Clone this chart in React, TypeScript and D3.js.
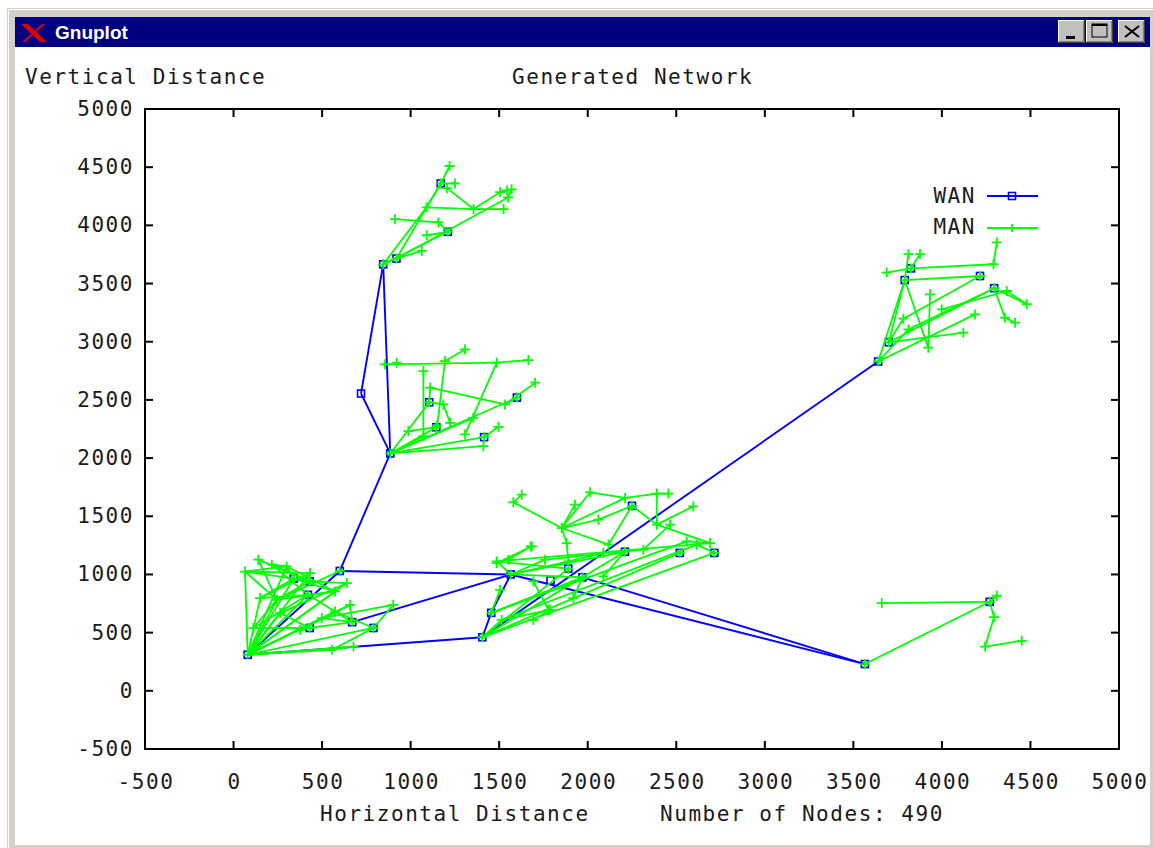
import React from 'react';
import * as d3 from 'd3';

const xTicks = [-500, 0, 500, 1000, 1500, 2000, 2500, 3000, 3500, 4000, 4500, 5000];
const yTicks = [-500, 0, 500, 1000, 1500, 2000, 2500, 3000, 3500, 4000, 4500, 5000];

const titleText = 'Generated Network';
const yLabel = 'Vertical Distance';
const xLabel = 'Horizontal Distance';
const nodeLabel = 'Number of Nodes: 490';
const seriesNames = ['WAN', 'MAN'];

// WAN nodes (blue squares)
const wanNodes: [number, number][] = [
  [80, 310], [600, 1030], [340, 965], [430, 940], [420, 825], [430, 540], [670, 590], [790, 540],
  [1405, 460], [1455, 670], [1565, 1000], [1790, 950], [1890, 1050], [1970, 975], [2210, 1195],
  [2250, 1590], [2520, 1185], [2715, 1185], [885, 2040], [720, 2555], [1105, 2480], [1145, 2265],
  [1600, 2520], [1415, 2180], [845, 3665], [920, 3715], [1170, 4360], [1210, 3945], [3640, 2830],
  [3700, 2995], [3790, 3530], [3825, 3630], [4215, 3565], [4295, 3460], [3565, 230], [4270, 765],
];

// WAN links (indices into wanNodes)
const wanLinks: [number, number][] = [
  [0, 8], [0, 1], [1, 18], [18, 19], [19, 24], [18, 24], [1, 10], [6, 10],
  [8, 9], [9, 10], [8, 28], [10, 34], [13, 34],
];

// MAN links: x1, y1, x2, y2
const manTop: [number, number, number, number][] = [
  [845, 3665, 1090, 4155], [1090, 4155, 1170, 4360], [1170, 4360, 1220, 4510], [920, 3715, 1170, 4360],
  [1090, 4155, 1355, 4140], [1205, 4320, 1355, 4140], [1170, 4360, 1250, 4360], [1355, 4140, 1505, 4285],
  [1355, 4140, 1525, 4140], [920, 3715, 1550, 4240], [1505, 4285, 1570, 4310], [1550, 4240, 1570, 4310],
  [912, 4053, 1157, 4025], [1157, 4025, 1210, 3945], [1091, 3915, 1210, 3945], [845, 3665, 1210, 3945],
  [920, 3715, 1063, 3780], [845, 3665, 920, 3715], [1505, 4285, 1545, 4300],
];

const manUpper: [number, number, number, number][] = [
  [855, 2806, 1486, 2820], [1486, 2820, 1665, 2842], [1194, 2834, 1307, 2934], [1194, 2834, 1150, 2280],
  [1486, 2820, 1307, 2203], [1110, 2605, 1533, 2461], [1533, 2461, 1703, 2648], [1533, 2461, 1600, 2520],
  [885, 2040, 1105, 2480], [885, 2040, 1600, 2520], [885, 2040, 1354, 2346], [885, 2040, 1145, 2265],
  [885, 2040, 1415, 2180], [885, 2040, 1411, 2102], [1072, 2748, 1072, 2188], [1415, 2180, 1496, 2269],
  [1223, 2303, 1185, 2461], [1105, 2480, 1110, 2605], [1105, 2480, 1185, 2461], [885, 2040, 1072, 2188],
  [987, 2231, 1145, 2265], [921, 2820, 921, 2820],
];

const manLower: [number, number, number, number][] = [
  [80, 310, 65, 1025], [80, 310, 300, 1069], [80, 310, 432, 1012], [80, 310, 640, 926],
  [80, 310, 573, 854], [80, 310, 420, 825], [80, 310, 658, 739], [80, 310, 573, 682],
  [80, 310, 498, 625], [80, 310, 677, 380], [80, 310, 555, 352], [80, 310, 790, 540],
  [80, 310, 263, 668], [80, 310, 340, 965], [65, 1025, 300, 1069], [65, 1025, 432, 1012],
  [140, 1127, 244, 782], [216, 1084, 300, 1069], [150, 797, 420, 825], [112, 539, 244, 782],
  [430, 940, 640, 926], [420, 825, 573, 854], [376, 524, 573, 682], [790, 540, 902, 739],
  [790, 540, 555, 352], [430, 540, 376, 524], [430, 540, 670, 590], [340, 965, 430, 940],
  [244, 782, 430, 940], [300, 1069, 340, 965], [498, 625, 670, 590], [658, 739, 670, 590],
  [573, 682, 790, 540], [65, 1025, 340, 965], [140, 1127, 430, 940], [216, 1084, 420, 825],
  [150, 797, 340, 965], [112, 539, 420, 825], [244, 782, 600, 1030], [263, 668, 640, 926],
  [300, 1069, 573, 854], [376, 524, 658, 739], [150, 797, 432, 1012], [65, 1025, 244, 782],
  [498, 625, 902, 739], [555, 352, 677, 380], [263, 668, 430, 540], [340, 965, 573, 854],
  [420, 825, 670, 590], [216, 1084, 430, 940], [112, 539, 430, 540], [80, 310, 244, 782],
  [80, 310, 150, 797], [244, 782, 573, 854],
];

const manMiddle: [number, number, number, number][] = [
  [1580, 1620, 1853, 1399], [1853, 1399, 2013, 1706], [2013, 1706, 2211, 1658], [2211, 1658, 2390, 1695],
  [2390, 1695, 2455, 1695], [1853, 1399, 2211, 1658], [1853, 1399, 1928, 1600], [1853, 1399, 2060, 1471],
  [1853, 1399, 2117, 1256], [1853, 1399, 1881, 1270], [1881, 1270, 1891, 1112], [2250, 1590, 2390, 1428],
  [2390, 1695, 2390, 1428], [2390, 1428, 2691, 1270], [2390, 1428, 2596, 1585], [2250, 1590, 2117, 1256],
  [2210, 1195, 2088, 983], [1405, 460, 2715, 1185], [1405, 460, 2520, 1185], [1405, 460, 2210, 1195],
  [1455, 670, 2559, 1284], [1514, 610, 2616, 1256], [1486, 1112, 2691, 1270], [1486, 1112, 1565, 1000],
  [1552, 1127, 1678, 1241], [1565, 1000, 1891, 1112], [1565, 1000, 1759, 1127], [1565, 1000, 1970, 975],
  [1970, 975, 1919, 797], [1693, 610, 1787, 696], [1405, 460, 1514, 610], [1693, 940, 1778, 696],
  [1455, 670, 1505, 868], [1486, 1098, 1684, 1241], [2314, 1213, 2465, 1428], [2559, 1284, 2691, 1270],
  [2616, 1256, 2715, 1185], [1580, 1620, 1627, 1686], [1891, 1112, 2088, 1184], [1759, 1127, 2314, 1213],
  [2060, 1471, 2250, 1590], [1405, 460, 1890, 1050], [1455, 670, 1970, 975], [1514, 610, 1787, 696],
  [1565, 1000, 2210, 1195], [1486, 1112, 1890, 1050],
];

const manRight: [number, number, number, number][] = [
  [3688, 3594, 3825, 3630], [3825, 3630, 4291, 3666], [4291, 3666, 4310, 3853], [3790, 3530, 4215, 3565],
  [3811, 3752, 3790, 3530], [3876, 3752, 3825, 3630], [3790, 3530, 3640, 2830], [3790, 3530, 3700, 2995],
  [3790, 3530, 3923, 2949], [4295, 3460, 3700, 2995], [4295, 3460, 3811, 3106], [4215, 3565, 3782, 3198],
  [4295, 3460, 4479, 3322], [4366, 3436, 4479, 3322], [4295, 3460, 4356, 3207], [4356, 3207, 4413, 3164],
  [3933, 3407, 3923, 2949], [3700, 2995, 4121, 3078], [3640, 2830, 4187, 3235], [3999, 3278, 4366, 3436],
  [3640, 2830, 3811, 3106], [3782, 3198, 3700, 2995],
];

const manBottomRight: [number, number, number, number][] = [
  [3565, 230, 4270, 765], [3660, 754, 4270, 765], [4270, 765, 4310, 817],
  [4270, 765, 4294, 633], [4294, 633, 4244, 380], [4244, 380, 4451, 430],
];

const BLUE = '#0000ff';
const GREEN = '#00ff00';
const FONT = "'DejaVu Sans Mono', monospace";

export default function App() {
  const x = d3.scaleLinear().domain([-500, 5000]).range([145, 1119]);
  const y = d3.scaleLinear().domain([-500, 5000]).range([749, 109]);

  const manAll = [...manTop, ...manUpper, ...manLower, ...manMiddle, ...manRight, ...manBottomRight];
  const manPts: [number, number][] = [];
  const seen = new Set<string>();
  manAll.forEach(([a, b, c, d]) => {
    [[a, b], [c, d]].forEach(([p, q]) => {
      const k = p + ',' + q;
      if (!seen.has(k)) {
        seen.add(k);
        manPts.push([p, q]);
      }
    });
  });

  const textStyle: React.CSSProperties = { fontFamily: FONT, fontSize: 21, letterSpacing: 1.55, fill: '#1a1a1a' };
  const plus = (cx: number, cy: number, key: string, r = 5) => (
    <path key={key} d={`M${cx - r},${cy}H${cx + r}M${cx},${cy - r}V${cy + r}`} stroke={GREEN} strokeWidth={1.8} fill="none" />
  );
  const square = (cx: number, cy: number, key: string) => (
    <rect key={key} x={cx - 3.5} y={cy - 3.5} width={7} height={7} stroke={BLUE} strokeWidth={1.6} fill="none" />
  );

  return (
    <svg width={1153} height={848} style={{ position: 'absolute', left: 0, top: 0, background: '#fff' }}>
      {/* window frame */}
      <rect x={7} y={8} width={1146} height={840} fill="#d4d0c8" />
      <line x1={8} y1={9.5} x2={1153} y2={9.5} stroke="#fff" strokeWidth={1} />
      <line x1={8.5} y1={9} x2={8.5} y2={848} stroke="#fff" strokeWidth={1} />
      <rect x={15} y={17} width={1135} height={30} fill="#000080" />
      <rect x={15} y={47} width={1135} height={798} fill="#fff" />
      {/* X icon */}
      <path d="M21,24 L28,24 L47,42 L40,42 Z" fill="#e00000" />
      <path d="M42,24 L45,24 L25,42 L22,42 Z" fill="#e00000" />
      <text x={55} y={39} fill="#fff" style={{ fontFamily: "'Liberation Sans', Arial, sans-serif", fontWeight: 'bold', fontSize: 19 }}>Gnuplot</text>
      {/* buttons */}
      {[1058, 1086, 1118].map((bx, i) => (
        <g key={'b' + i}>
          <rect x={bx} y={20} width={27} height={23} fill="#c0c0c0" />
          <path d={`M${bx + 0.5},${43}V${20.5}H${bx + 27}`} stroke="#fff" fill="none" />
          <path d={`M${bx},${42.5}H${bx + 26.5}V${20}`} stroke="#404040" fill="none" />
          <path d={`M${bx + 1},${41.5}H${bx + 25.5}V${21}`} stroke="#808080" fill="none" />
        </g>
      ))}
      <rect x={1066} y={36} width={9} height={3} fill="#000" />
      <rect x={1092} y={24} width={15} height={13} fill="none" stroke="#000" strokeWidth={1} />
      <rect x={1092} y={24} width={15} height={2} fill="#000" />
      <path d="M1125,26 L1139,37 M1139,26 L1125,37" stroke="#000" strokeWidth={2} />

      {/* titles */}
      <text x={25} y={84} style={textStyle}>{yLabel}</text>
      <text x={512} y={84} style={textStyle}>{titleText}</text>
      <text x={320} y={821} style={textStyle}>{xLabel}</text>
      <text x={660} y={821} style={textStyle}>{nodeLabel}</text>

      {/* ticks */}
      {xTicks.map((t) => (
        <g key={'xt' + t}>
          <line x1={x(t)} x2={x(t)} y1={749} y2={741} stroke="#000" strokeWidth={2} />
          <line x1={x(t)} x2={x(t)} y1={109} y2={117} stroke="#000" strokeWidth={2} />
          <text x={x(t) + 1} y={789} textAnchor="middle" style={textStyle}>{t}</text>
        </g>
      ))}
      {yTicks.map((t) => (
        <g key={'yt' + t}>
          <line x1={145} x2={153} y1={y(t)} y2={y(t)} stroke="#000" strokeWidth={2} />
          <line x1={1119} x2={1111} y1={y(t)} y2={y(t)} stroke="#000" strokeWidth={2} />
          <text x={134} y={y(t) + 7} textAnchor="end" style={textStyle}>{t}</text>
        </g>
      ))}
      <rect x={145} y={109} width={974} height={640} fill="none" stroke="#000" strokeWidth={2} />

      {/* WAN */}
      {wanLinks.map(([i, j], k) => (
        <line key={'wl' + k} x1={x(wanNodes[i][0])} y1={y(wanNodes[i][1])} x2={x(wanNodes[j][0])} y2={y(wanNodes[j][1])}
          stroke={BLUE} strokeWidth={1.9} />
      ))}
      {wanNodes.map(([a, b], k) => square(x(a), y(b), 'wn' + k))}

      {/* MAN */}
      {manAll.map(([a, b, c, d], k) => (
        <line key={'ml' + k} x1={x(a)} y1={y(b)} x2={x(c)} y2={y(d)} stroke={GREEN} strokeWidth={1.8} />
      ))}
      {manPts.map(([a, b], k) => plus(x(a), y(b), 'mp' + k))}

      {/* legend */}
      <text x={976} y={203} textAnchor="end" style={textStyle}>{seriesNames[0]}</text>
      <line x1={987} x2={1038} y1={196} y2={196} stroke={BLUE} strokeWidth={1.8} />
      {square(1012, 196, 'lg1')}
      <text x={976} y={234} textAnchor="end" style={textStyle}>{seriesNames[1]}</text>
      <line x1={987} x2={1038} y1={228} y2={228} stroke={GREEN} strokeWidth={1.8} />
      <line x1={1012} x2={1012} y1={224} y2={232} stroke={GREEN} strokeWidth={1.8} />
    </svg>
  );
}
